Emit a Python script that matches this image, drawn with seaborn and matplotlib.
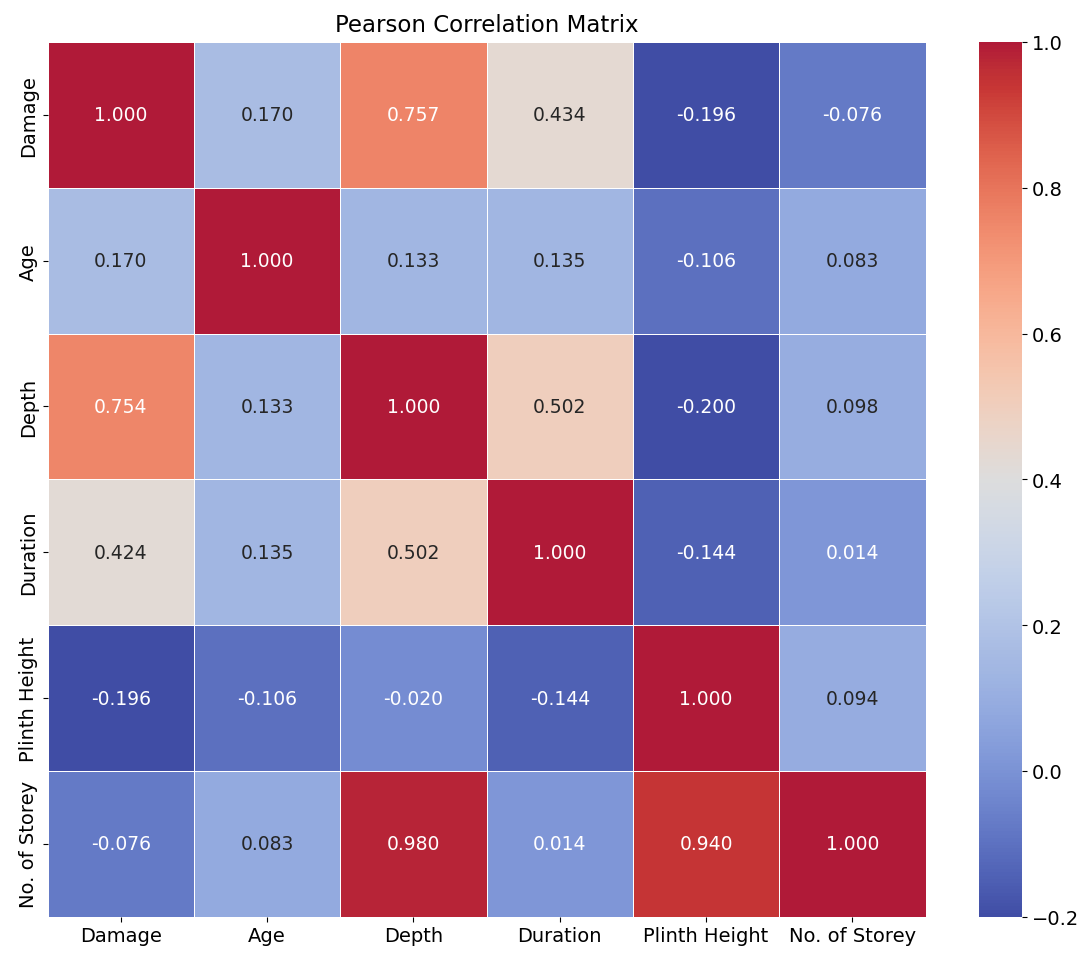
import numpy as np
import pandas as pd
import matplotlib
matplotlib.use("Agg")
import matplotlib.pyplot as plt
import matplotlib.colors as mcolors
import seaborn as sns

labels = ["Damage", "Age", "Depth", "Duration", "Plinth Height", "No. of Storey"]

row_damage = [1.000, 0.170, 0.757, 0.434, -0.196, -0.076]
row_age = [0.170, 1.000, 0.133, 0.135, -0.106, 0.083]
row_depth = [0.754, 0.133, 1.000, 0.502, -0.200, 0.098]
row_duration = [0.424, 0.135, 0.502, 1.000, -0.144, 0.014]
row_plinth = [-0.196, -0.106, -0.020, -0.144, 1.000, 0.094]
row_storey = [-0.076, 0.083, 0.980, 0.014, 0.940, 1.000]

corr = pd.DataFrame(
    [row_damage, row_age, row_depth, row_duration, row_plinth, row_storey],
    index=labels, columns=labels,
)

vmin, vmax = -0.2, 1.0

# Softened coolwarm: blues muted and slightly darker, deepest reds a bit softer
base_cmap = plt.get_cmap("coolwarm")
pos = np.linspace(0, 1, 256)
base = base_cmap(pos)[:, :3]
hsv = mcolors.rgb_to_hsv(base)
s_blue = np.interp(pos, [0.0, 0.3, 0.5], [0.88, 0.70, 0.70])
v_blue = np.interp(pos, [0.0, 0.3, 0.5], [0.86, 0.89, 1.0])
s_red = np.interp(pos, [0.5, 0.95, 1.0], [1.0, 1.0, 0.87])
v_red = np.interp(pos, [0.5, 0.95, 1.0], [1.0, 1.0, 0.98])
blue_part = pos < 0.5
hsv[:, 1] = np.clip(hsv[:, 1] * np.where(blue_part, s_blue, s_red), 0, 1)
hsv[:, 2] = np.clip(hsv[:, 2] * np.where(blue_part, v_blue, v_red), 0, 1)
soft = mcolors.ListedColormap(mcolors.hsv_to_rgb(hsv), name="soft_coolwarm")

fig = plt.figure(figsize=(10.85, 9.54), dpi=100)
ax = fig.add_axes([0.044, 0.038, 0.809, 0.917])
cax = fig.add_axes([0.902, 0.038, 0.040, 0.917])

sns.heatmap(
    corr, ax=ax, cbar_ax=cax, cmap=soft, vmin=vmin, vmax=vmax,
    annot=True, fmt=".3f", linewidths=0.6, linecolor="white",
    annot_kws={"fontsize": 13.5},
)

# Annotation colour follows the luminance of the standard coolwarm colour
norm = mcolors.Normalize(vmin, vmax)
vals = corr.to_numpy().ravel()
for txt, v in zip(ax.texts, vals):
    lum = sns.utils.relative_luminance(base_cmap(norm(v)))
    txt.set_color(".15" if lum > .408 else "w")

ax.set_title("Pearson Correlation Matrix", fontsize=16.5, pad=8)
ax.tick_params(axis="both", labelsize=14)
ax.set_xticklabels(labels, rotation=0)
ax.set_yticklabels(labels, rotation=90, va="center")
cax.tick_params(labelsize=14)
cax.set_yticks([-0.2, 0.0, 0.2, 0.4, 0.6, 0.8, 1.0])

fig.savefig("out.png", dpi=100)
